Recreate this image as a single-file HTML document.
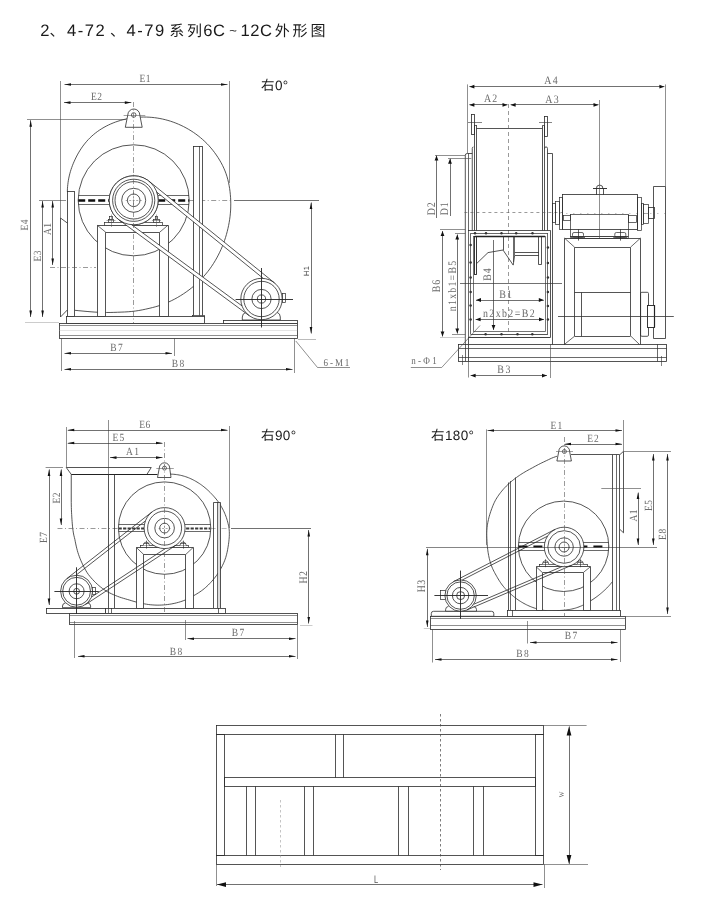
<!DOCTYPE html>
<html><head><meta charset="utf-8"><title>4-72 4-79 6C-12C</title>
<style>
html,body{margin:0;padding:0;background:#fff;}
body{width:720px;height:916px;overflow:hidden;position:relative;font-family:"Liberation Sans","Noto Sans CJK SC",sans-serif;}
svg{position:absolute;left:0;top:0;display:block;will-change:transform;opacity:0.999;}
text{text-rendering:geometricPrecision;}
.ts{font-family:"Liberation Serif","Noto Serif CJK SC",serif;}
.tn{font-family:"Liberation Sans","Noto Sans CJK SC",sans-serif;}
</style></head><body>
<svg width="720" height="916" viewBox="0 0 720 916">
<rect x="0" y="0" width="720" height="916" fill="#ffffff"/>
<text y="35.6" font-size="16.6" fill="#1a1a1a" class="tn"><tspan x="40.3">2</tspan><tspan x="49.5" font-size="15">、</tspan><tspan x="67" letter-spacing="1.5">4-72</tspan><tspan x="110" font-size="15">、</tspan><tspan x="126.5" letter-spacing="1.5">4-79</tspan><tspan x="169.3" font-size="15" letter-spacing="2.6">系列</tspan><tspan x="203.3" letter-spacing="0.5">6C</tspan><tspan x="229.3" font-size="13" dy="-0.5">~</tspan><tspan x="240.6" dy="0.5" letter-spacing="0.5">12C</tspan><tspan x="274.8" font-size="15" letter-spacing="2.8">外形图</tspan></text>
<path d="M67.30,191.50 L67.36,190.98 L67.45,188.84 L67.59,186.70 L67.80,184.55 L68.07,182.40 L68.40,180.25 L68.79,178.10 L69.25,175.95 L69.78,173.81 L70.37,171.67 L71.02,169.54 L71.75,167.43 L72.54,165.32 L73.39,163.23 L74.29,161.14 L75.25,159.06 L76.26,156.99 L77.34,154.93 L78.48,152.89 L79.69,150.87 L80.96,148.88 L82.31,146.92 L83.73,144.99 L85.22,143.10 L86.78,141.25 L88.42,139.45 L90.13,137.71 L91.91,136.02 L93.77,134.40 L95.69,132.85 L97.68,131.37 L99.74,129.96 L101.84,128.61 L104.00,127.34 L106.22,126.13 L108.48,125.00 L110.78,123.94 L113.13,122.96 L115.52,122.04 L117.95,121.21 L120.41,120.45 L122.90,119.76 L125.42,119.15 L127.98,118.61 L130.55,118.15 L133.15,117.77 L135.77,117.47 L138.41,117.24 L141.07,117.10 L143.74,117.04 L146.42,117.07 L149.11,117.19 L151.80,117.39 L154.50,117.67 L157.20,118.05 L159.89,118.51 L162.58,119.05 L165.26,119.69 L167.93,120.42 L170.59,121.23 L173.23,122.13 L175.85,123.12 L178.45,124.19 L181.02,125.35 L183.57,126.59 L186.09,127.91 L188.57,129.32 L191.03,130.81 L193.44,132.38 L195.81,134.04 L198.14,135.78 L200.41,137.60 L202.63,139.51 L204.80,141.49 L206.90,143.56 L208.93,145.70 L210.90,147.93 L212.78,150.23 L214.60,152.60 L216.33,155.04 L218.00,157.53 L219.59,160.09 L221.10,162.71 L222.51,165.39 L223.82,168.13 L225.01,170.93 L226.08,173.78 L227.02,176.68 L227.83,179.62 L228.54,182.59 L229.14,185.59 L229.64,188.61 L230.04,191.64 L230.35,194.69 L230.58,197.75 L230.72,200.82 L230.77,203.89 L230.73,206.97 L230.61,210.05 L230.39,213.13 L230.08,216.21 L229.68,219.28 L229.19,222.35 L228.62,225.41 L227.96,228.45 L227.23,231.49 L226.42,234.52 L225.52,237.53 L224.54,240.53 L223.47,243.50 L222.31,246.45 L221.05,249.37 L219.70,252.26 L218.27,255.13 L216.76,257.96 L215.16,260.76 L213.47,263.51 L211.69,266.23 L209.82,268.89 L207.85,271.49 L205.78,274.04 L203.63,276.51 L201.39,278.93 L199.06,281.28 L196.65,283.55 L194.17,285.76 L191.60,287.89 L188.97,289.95 L186.26,291.92 L183.48,293.82 L180.64,295.64 L177.73,297.38 L174.76,299.02 L171.73,300.57 L168.64,302.02 L165.49,303.37 L162.29,304.60 L159.04,305.71 L155.74,306.70 L152.40,307.59 L149.04,308.40 L145.65,309.17 L142.22,309.88 L138.77,310.51 L135.29,311.05 L131.77,311.46 L128.23,311.76 L124.67,311.97 L121.09,312.12 L117.47,312.25 L113.81,312.38 L110.11,312.47 L106.38,312.48 L102.60,312.41 L98.78,312.29 L94.92,312.10 L91.02,311.81 L87.06,311.47 L83.04,311.10 L78.92,310.71 L74.73,310.29" fill="none" stroke="#2a2a2a" stroke-width="0.8" stroke-linejoin="round"/>
<circle cx="133.70" cy="200.30" r="55.50" fill="none" stroke="#2a2a2a" stroke-width="0.8"/>
<line x1="78.40" y1="195.50" x2="189.00" y2="195.50" stroke="#2a2a2a" stroke-width="0.7"/>
<line x1="78.40" y1="204.50" x2="189.00" y2="204.50" stroke="#2a2a2a" stroke-width="0.7"/>
<line x1="78.20" y1="200.50" x2="189.20" y2="200.50" stroke="#111" stroke-width="2.4" stroke-dasharray="7 3"/>
<line x1="189.20" y1="200.50" x2="232.00" y2="200.50" stroke="#555" stroke-width="0.6" stroke-dasharray="5 2.5 1 2.5"/>
<line x1="234.00" y1="200.50" x2="319.00" y2="200.50" stroke="#333" stroke-width="0.7"/>
<rect x="67.50" y="191.50" width="7.00" height="125.00" fill="#fff" stroke="#2a2a2a" stroke-width="0.8"/>
<path d="M67.30,223.00 L60.50,218.00 L60.50,317.00 L67.30,310.00" fill="none" stroke="#2a2a2a" stroke-width="0.8" stroke-linejoin="round"/>
<line x1="50.00" y1="267.50" x2="96.00" y2="267.50" stroke="#555" stroke-width="0.6" stroke-dasharray="5 2.5 1 2.5"/>
<rect x="193.50" y="146.50" width="9.00" height="170.00" fill="#fff" stroke="#2a2a2a" stroke-width="0.8"/>
<line x1="199.50" y1="146.00" x2="199.50" y2="316.00" stroke="#2a2a2a" stroke-width="0.7"/>
<rect x="192.50" y="315.50" width="12.00" height="2.00" fill="#fff" stroke="#2a2a2a" stroke-width="0.7"/>
<path d="M97.50,316.50 L97.50,225.50 L168.50,225.50 L168.50,316.50 L159.50,316.50 L159.50,232.50 L105.50,232.50 L105.50,316.50 Z" fill="#fff" stroke="#2a2a2a" stroke-width="0.8" stroke-linejoin="round"/>
<line x1="97.20" y1="225.20" x2="105.80" y2="232.30" stroke="#2a2a2a" stroke-width="0.7"/>
<line x1="168.00" y1="225.20" x2="159.60" y2="232.30" stroke="#2a2a2a" stroke-width="0.7"/>
<rect x="104.50" y="222.50" width="58.00" height="3.00" fill="#fff" stroke="#2a2a2a" stroke-width="0.7"/>
<rect x="108.50" y="219.50" width="5.00" height="3.00" fill="#fff" stroke="#2a2a2a" stroke-width="0.7"/>
<rect x="109.50" y="216.50" width="3.00" height="3.00" fill="#fff" stroke="#2a2a2a" stroke-width="0.7"/>
<line x1="111.50" y1="214.50" x2="111.50" y2="227.00" stroke="#555" stroke-width="0.5"/>
<line x1="106.50" y1="220.50" x2="115.50" y2="220.50" stroke="#555" stroke-width="0.5"/>
<rect x="153.50" y="219.50" width="6.00" height="3.00" fill="#fff" stroke="#2a2a2a" stroke-width="0.7"/>
<rect x="155.50" y="216.50" width="2.00" height="3.00" fill="#fff" stroke="#2a2a2a" stroke-width="0.7"/>
<line x1="156.50" y1="214.50" x2="156.50" y2="227.00" stroke="#555" stroke-width="0.5"/>
<line x1="151.90" y1="220.50" x2="160.90" y2="220.50" stroke="#555" stroke-width="0.5"/>
<circle cx="133.70" cy="200.30" r="24.50" fill="#fff" stroke="#2a2a2a" stroke-width="0.8"/>
<circle cx="133.70" cy="200.30" r="21.10" fill="none" stroke="#2a2a2a" stroke-width="0.8"/>
<circle cx="133.70" cy="200.30" r="18.70" fill="none" stroke="#2a2a2a" stroke-width="0.8"/>
<circle cx="133.70" cy="200.30" r="12.00" fill="none" stroke="#2a2a2a" stroke-width="0.8"/>
<circle cx="133.70" cy="200.30" r="6.30" fill="none" stroke="#2a2a2a" stroke-width="0.8"/>
<line x1="125.70" y1="200.50" x2="141.70" y2="200.50" stroke="#555" stroke-width="0.5" stroke-dasharray="2 1.5"/>
<line x1="133.50" y1="192.30" x2="133.50" y2="208.30" stroke="#555" stroke-width="0.5" stroke-dasharray="2 1.5"/>
<line x1="120.50" y1="200.50" x2="122.90" y2="200.50" stroke="#444" stroke-width="0.5"/>
<line x1="144.50" y1="200.50" x2="146.90" y2="200.50" stroke="#444" stroke-width="0.5"/>
<line x1="133.50" y1="187.10" x2="133.50" y2="189.50" stroke="#444" stroke-width="0.5"/>
<line x1="133.50" y1="211.10" x2="133.50" y2="213.50" stroke="#444" stroke-width="0.5"/>
<line x1="113.80" y1="200.50" x2="116.20" y2="200.50" stroke="#444" stroke-width="0.5"/>
<line x1="151.20" y1="200.50" x2="153.60" y2="200.50" stroke="#444" stroke-width="0.5"/>
<line x1="133.50" y1="180.40" x2="133.50" y2="182.80" stroke="#444" stroke-width="0.5"/>
<line x1="133.50" y1="217.80" x2="133.50" y2="220.20" stroke="#444" stroke-width="0.5"/>
<line x1="108.00" y1="200.50" x2="110.40" y2="200.50" stroke="#444" stroke-width="0.5"/>
<line x1="157.00" y1="200.50" x2="159.40" y2="200.50" stroke="#444" stroke-width="0.5"/>
<line x1="133.50" y1="174.60" x2="133.50" y2="177.00" stroke="#444" stroke-width="0.5"/>
<line x1="133.50" y1="223.60" x2="133.50" y2="226.00" stroke="#444" stroke-width="0.5"/>
<rect x="66.50" y="316.50" width="138.00" height="7.00" fill="#fff" stroke="#2a2a2a" stroke-width="0.8"/>
<rect x="59.50" y="323.50" width="238.00" height="15.00" fill="#fff" stroke="#2a2a2a" stroke-width="0.8"/>
<line x1="59.40" y1="325.50" x2="297.30" y2="325.50" stroke="#444" stroke-width="0.6"/>
<line x1="59.40" y1="335.50" x2="297.30" y2="335.50" stroke="#444" stroke-width="0.6"/>
<line x1="59.40" y1="330.50" x2="297.30" y2="330.50" stroke="#bbb" stroke-width="0.4"/>
<rect x="223.50" y="320.50" width="74.00" height="3.00" fill="#fff" stroke="#2a2a2a" stroke-width="0.8"/>
<path d="M246,312.3 Q242.3,313.5 242.3,317 L242.3,320 L280.3,320 L280.3,317 Q280.3,313.5 277,312.3" fill="#fff" stroke="#2a2a2a" stroke-width="0.8"/>
<rect x="282.50" y="293.50" width="3.00" height="9.00" fill="#fff" stroke="#2a2a2a" stroke-width="0.7"/>
<polygon points="119.19,220.04 249.24,315.68 251.37,312.78 121.32,217.14" fill="#fff" stroke="none"/>
<polygon points="149.13,181.27 274.53,282.92 272.27,285.72 146.86,184.06" fill="#fff" stroke="none"/>
<circle cx="261.50" cy="299.00" r="20.70" fill="#fff" stroke="#2a2a2a" stroke-width="0.8"/>
<circle cx="261.50" cy="299.00" r="17.70" fill="none" stroke="#2a2a2a" stroke-width="0.8"/>
<circle cx="261.50" cy="299.00" r="9.60" fill="none" stroke="#2a2a2a" stroke-width="0.8"/>
<circle cx="261.50" cy="299.00" r="4.10" fill="none" stroke="#2a2a2a" stroke-width="0.8"/>
<circle cx="133.70" cy="200.30" r="24.50" fill="#fff" stroke="#2a2a2a" stroke-width="0.8"/>
<circle cx="133.70" cy="200.30" r="21.10" fill="none" stroke="#2a2a2a" stroke-width="0.8"/>
<circle cx="133.70" cy="200.30" r="18.70" fill="none" stroke="#2a2a2a" stroke-width="0.8"/>
<circle cx="133.70" cy="200.30" r="12.00" fill="none" stroke="#2a2a2a" stroke-width="0.8"/>
<circle cx="133.70" cy="200.30" r="6.30" fill="none" stroke="#2a2a2a" stroke-width="0.8"/>
<line x1="125.70" y1="200.50" x2="141.70" y2="200.50" stroke="#555" stroke-width="0.5" stroke-dasharray="2 1.5"/>
<line x1="133.50" y1="192.30" x2="133.50" y2="208.30" stroke="#555" stroke-width="0.5" stroke-dasharray="2 1.5"/>
<line x1="119.19" y1="220.04" x2="249.24" y2="315.68" stroke="#2a2a2a" stroke-width="0.8"/>
<line x1="149.13" y1="181.27" x2="274.53" y2="282.92" stroke="#2a2a2a" stroke-width="0.8"/>
<line x1="131.62" y1="224.71" x2="241.97" y2="305.86" stroke="#2a2a2a" stroke-width="0.8"/>
<line x1="156.79" y1="192.11" x2="263.21" y2="278.37" stroke="#2a2a2a" stroke-width="0.8"/>
<line x1="235.60" y1="299.50" x2="293.00" y2="299.50" stroke="#222" stroke-width="0.9"/>
<line x1="261.50" y1="268.00" x2="261.50" y2="327.50" stroke="#222" stroke-width="0.9"/>
<path d="M125.3,127.3 L127.8,115 A6,6 0 0 1 139.8,115 L142.2,127.3 Z" fill="#fff" stroke="#2a2a2a" stroke-width="0.8"/>
<circle cx="133.70" cy="115.00" r="2.30" fill="none" stroke="#2a2a2a" stroke-width="0.7"/>
<line x1="123.60" y1="115.50" x2="145.30" y2="115.50" stroke="#444" stroke-width="0.5"/>
<line x1="133.50" y1="102.00" x2="133.50" y2="323.00" stroke="#555" stroke-width="0.6" stroke-dasharray="5 2.5 1 2.5"/>
<line x1="60.50" y1="81.00" x2="60.50" y2="218.00" stroke="#444" stroke-width="0.6"/>
<line x1="229.50" y1="81.00" x2="229.50" y2="183.00" stroke="#444" stroke-width="0.6"/>
<line x1="64.50" y1="84.50" x2="227.50" y2="84.50" stroke="#333" stroke-width="0.7"/>
<polygon points="64.50,84.50 71.00,83.20 71.00,85.80" fill="#111"/>
<polygon points="227.50,84.50 221.00,85.80 221.00,83.20" fill="#111"/>
<text x="0.29" y="0" font-size="11" fill="#6a6a6a" text-anchor="middle" letter-spacing="0.58" class="ts" transform="translate(145.00 81.50) scale(0.86 1)">E1</text>
<line x1="64.00" y1="102.50" x2="131.30" y2="102.50" stroke="#333" stroke-width="0.7"/>
<polygon points="64.00,102.60 70.50,101.30 70.50,103.90" fill="#111"/>
<polygon points="131.30,102.60 124.80,103.90 124.80,101.30" fill="#111"/>
<text x="0.29" y="0" font-size="11" fill="#6a6a6a" text-anchor="middle" letter-spacing="0.58" class="ts" transform="translate(96.50 99.50) scale(0.86 1)">E2</text>
<line x1="27.00" y1="119.50" x2="126.00" y2="119.50" stroke="#444" stroke-width="0.6"/>
<line x1="30.50" y1="120.20" x2="30.50" y2="317.00" stroke="#333" stroke-width="0.7"/>
<polygon points="30.70,120.20 32.00,126.70 29.40,126.70" fill="#111"/>
<polygon points="30.70,317.00 29.40,310.50 32.00,310.50" fill="#111"/>
<text x="0.29" y="0" font-size="11" fill="#6a6a6a" text-anchor="middle" letter-spacing="0.58" class="ts" transform="translate(28.00 225.00) rotate(-90) scale(0.86 1)">E4</text>
<line x1="39.00" y1="200.50" x2="66.00" y2="200.50" stroke="#444" stroke-width="0.6"/>
<line x1="42.50" y1="201.00" x2="42.50" y2="317.00" stroke="#333" stroke-width="0.7"/>
<polygon points="42.60,201.00 43.90,207.50 41.30,207.50" fill="#111"/>
<polygon points="42.60,317.00 41.30,310.50 43.90,310.50" fill="#111"/>
<text x="0.29" y="0" font-size="11" fill="#6a6a6a" text-anchor="middle" letter-spacing="0.58" class="ts" transform="translate(40.50 256.00) rotate(-90) scale(0.86 1)">E3</text>
<line x1="52.50" y1="201.00" x2="52.50" y2="265.00" stroke="#333" stroke-width="0.7"/>
<polygon points="52.70,201.00 54.00,207.50 51.40,207.50" fill="#111"/>
<polygon points="52.70,265.00 51.40,258.50 54.00,258.50" fill="#111"/>
<text x="0.29" y="0" font-size="11" fill="#6a6a6a" text-anchor="middle" letter-spacing="0.58" class="ts" transform="translate(50.50 229.00) rotate(-90) scale(0.86 1)">A1</text>
<line x1="25.00" y1="322.50" x2="59.00" y2="322.50" stroke="#999" stroke-width="0.5"/>
<line x1="311.50" y1="202.50" x2="311.50" y2="333.50" stroke="#333" stroke-width="0.7"/>
<polygon points="311.00,202.50 312.30,209.00 309.70,209.00" fill="#111"/>
<polygon points="311.00,333.50 309.70,327.00 312.30,327.00" fill="#111"/>
<text x="0.15" y="0" font-size="7.6" fill="#333" text-anchor="middle" letter-spacing="0.30" class="tn" transform="translate(308.80 271.00) rotate(-90) scale(1.0 1)">H1</text>
<line x1="298.00" y1="339.50" x2="316.00" y2="339.50" stroke="#777" stroke-width="0.5"/>
<line x1="61.50" y1="338.00" x2="61.50" y2="371.00" stroke="#444" stroke-width="0.6"/>
<line x1="174.50" y1="338.00" x2="174.50" y2="356.00" stroke="#444" stroke-width="0.6"/>
<line x1="294.50" y1="338.00" x2="294.50" y2="373.00" stroke="#444" stroke-width="0.6"/>
<line x1="64.50" y1="353.50" x2="172.00" y2="353.50" stroke="#333" stroke-width="0.7"/>
<polygon points="64.50,353.30 71.00,352.00 71.00,354.60" fill="#111"/>
<polygon points="172.00,353.30 165.50,354.60 165.50,352.00" fill="#111"/>
<text x="0.87" y="0" font-size="11" fill="#6a6a6a" text-anchor="middle" letter-spacing="1.74" class="ts" transform="translate(116.50 351.00) scale(0.86 1)">B7</text>
<line x1="64.50" y1="369.50" x2="292.50" y2="369.50" stroke="#333" stroke-width="0.7"/>
<polygon points="64.50,369.20 71.00,367.90 71.00,370.50" fill="#111"/>
<polygon points="292.50,369.20 286.00,370.50 286.00,367.90" fill="#111"/>
<text x="0.87" y="0" font-size="11" fill="#6a6a6a" text-anchor="middle" letter-spacing="1.74" class="ts" transform="translate(178.00 367.00) scale(0.86 1)">B8</text>
<path d="M295.80,341.00 L317.50,367.50 L350.00,367.50" fill="none" stroke="#444" stroke-width="0.6" stroke-linejoin="round"/>
<text x="1.10" y="0" font-size="10.5" fill="#6a6a6a" text-anchor="middle" letter-spacing="2.21" class="ts" transform="translate(336.50 366.00) scale(0.86 1)">6-M1</text>
<text x="261" y="89.8" font-size="13.5" fill="#1a1a1a" class="tn" letter-spacing="0.4">右0°</text>
<rect x="471.50" y="114.50" width="3.00" height="20.00" fill="none" stroke="#2a2a2a" stroke-width="0.8"/>
<line x1="468.00" y1="122.50" x2="482.00" y2="122.50" stroke="#333" stroke-width="0.6"/>
<rect x="544.50" y="116.50" width="3.00" height="20.00" fill="none" stroke="#2a2a2a" stroke-width="0.8"/>
<line x1="539.00" y1="122.50" x2="552.00" y2="122.50" stroke="#333" stroke-width="0.6"/>
<line x1="476.50" y1="128.50" x2="542.25" y2="128.50" stroke="#2a2a2a" stroke-width="0.8"/>
<line x1="474.50" y1="125.00" x2="474.50" y2="230.50" stroke="#2a2a2a" stroke-width="0.8"/>
<line x1="476.50" y1="125.00" x2="476.50" y2="230.50" stroke="#2a2a2a" stroke-width="0.8"/>
<line x1="474.50" y1="125.50" x2="476.50" y2="125.50" stroke="#2a2a2a" stroke-width="0.7"/>
<line x1="542.50" y1="125.60" x2="542.50" y2="230.50" stroke="#2a2a2a" stroke-width="0.8"/>
<line x1="544.50" y1="125.60" x2="544.50" y2="230.50" stroke="#2a2a2a" stroke-width="0.8"/>
<line x1="542.25" y1="125.50" x2="544.50" y2="125.50" stroke="#2a2a2a" stroke-width="0.7"/>
<path d="M472.25,230.5 L472.25,148.5 Q472.25,147 473.4,147" fill="none" stroke="#2a2a2a" stroke-width="0.8"/>
<path d="M465.3,344.4 L465.3,155.3 Q465.3,153.5 467.2,153.5 L472.25,153.5" fill="none" stroke="#2a2a2a" stroke-width="0.8"/>
<line x1="468.50" y1="153.50" x2="468.50" y2="344.40" stroke="#2a2a2a" stroke-width="0.7"/>
<path d="M544.6,148.5 Q544.6,146.9 546,146.9 Q547.5,146.9 547.5,148.5 L547.5,230.5" fill="none" stroke="#2a2a2a" stroke-width="0.8"/>
<line x1="547.50" y1="153.50" x2="552.50" y2="153.50" stroke="#2a2a2a" stroke-width="0.8"/>
<line x1="552.50" y1="153.50" x2="552.50" y2="344.40" stroke="#2a2a2a" stroke-width="0.8"/>
<line x1="464.40" y1="212.50" x2="562.00" y2="212.50" stroke="#555" stroke-width="0.6" stroke-dasharray="3 3"/>
<line x1="552.00" y1="213.50" x2="665.00" y2="213.50" stroke="#888" stroke-width="0.5" stroke-dasharray="1.5 5.5"/>
<line x1="508.50" y1="104.00" x2="508.50" y2="333.00" stroke="#555" stroke-width="0.6" stroke-dasharray="4 3"/>
<line x1="468.00" y1="230.50" x2="550.60" y2="230.50" stroke="#2a2a2a" stroke-width="0.8"/>
<line x1="550.50" y1="230.50" x2="550.50" y2="337.25" stroke="#2a2a2a" stroke-width="0.8"/>
<line x1="468.00" y1="337.50" x2="550.60" y2="337.50" stroke="#2a2a2a" stroke-width="0.9"/>
<line x1="470.60" y1="233.50" x2="547.90" y2="233.50" stroke="#2a2a2a" stroke-width="0.7"/>
<line x1="470.50" y1="233.25" x2="470.50" y2="334.20" stroke="#2a2a2a" stroke-width="0.7"/>
<line x1="547.50" y1="233.25" x2="547.50" y2="334.20" stroke="#2a2a2a" stroke-width="0.7"/>
<line x1="470.60" y1="334.50" x2="547.90" y2="334.50" stroke="#2a2a2a" stroke-width="0.8"/>
<rect x="473.50" y="236.50" width="72.00" height="95.00" fill="none" stroke="#555" stroke-width="0.8"/>
<line x1="474.75" y1="236.50" x2="545.00" y2="236.50" stroke="#222" stroke-width="1.3"/>
<rect x="474.50" y="236.50" width="2.00" height="38.00" fill="none" stroke="#222" stroke-width="0.9"/>
<circle cx="486.00" cy="233.25" r="1.25" fill="#333"/>
<circle cx="501.50" cy="233.25" r="1.25" fill="#333"/>
<circle cx="516.20" cy="233.25" r="1.25" fill="#333"/>
<circle cx="532.50" cy="233.25" r="1.25" fill="#333"/>
<circle cx="475.00" cy="233.25" r="1.25" fill="#333"/>
<circle cx="485.60" cy="334.20" r="1.25" fill="#333"/>
<circle cx="501.50" cy="334.20" r="1.25" fill="#333"/>
<circle cx="517.50" cy="334.20" r="1.25" fill="#333"/>
<circle cx="532.30" cy="334.20" r="1.25" fill="#333"/>
<circle cx="470.60" cy="245.00" r="1.25" fill="#333"/>
<circle cx="470.60" cy="262.60" r="1.25" fill="#333"/>
<circle cx="470.60" cy="277.60" r="1.25" fill="#333"/>
<circle cx="470.60" cy="292.00" r="1.25" fill="#333"/>
<circle cx="470.60" cy="305.60" r="1.25" fill="#333"/>
<circle cx="470.60" cy="319.40" r="1.25" fill="#333"/>
<circle cx="547.90" cy="247.60" r="1.25" fill="#333"/>
<circle cx="547.90" cy="263.00" r="1.25" fill="#333"/>
<circle cx="547.90" cy="277.60" r="1.25" fill="#333"/>
<circle cx="547.90" cy="292.00" r="1.25" fill="#333"/>
<circle cx="547.90" cy="306.00" r="1.25" fill="#333"/>
<circle cx="547.90" cy="319.40" r="1.25" fill="#333"/>
<path d="M476.90,263.30 L488.00,252.60 L503.00,250.00 L513.20,265.10 L514.60,255.60" fill="none" stroke="#2a2a2a" stroke-width="0.8" stroke-linejoin="round"/>
<line x1="503.50" y1="236.00" x2="503.50" y2="250.00" stroke="#2a2a2a" stroke-width="0.8"/>
<line x1="513.50" y1="236.00" x2="513.50" y2="262.00" stroke="#2a2a2a" stroke-width="0.7"/>
<line x1="514.50" y1="236.00" x2="514.50" y2="255.60" stroke="#2a2a2a" stroke-width="0.7"/>
<line x1="514.80" y1="252.50" x2="538.80" y2="252.50" stroke="#2a2a2a" stroke-width="0.8"/>
<line x1="514.80" y1="255.50" x2="538.80" y2="255.50" stroke="#2a2a2a" stroke-width="0.8"/>
<path d="M538.50,236.00 L538.50,264.50 L541.50,264.50 L541.50,236.00" fill="none" stroke="#2a2a2a" stroke-width="0.8" stroke-linejoin="round"/>
<line x1="460.00" y1="283.50" x2="562.00" y2="283.50" stroke="#333" stroke-width="0.7"/>
<rect x="458.50" y="344.50" width="208.00" height="17.00" fill="none" stroke="#2a2a2a" stroke-width="0.8"/>
<line x1="458.50" y1="348.50" x2="666.50" y2="348.50" stroke="#2a2a2a" stroke-width="0.7"/>
<line x1="458.50" y1="357.50" x2="666.50" y2="357.50" stroke="#2a2a2a" stroke-width="0.7"/>
<line x1="465.50" y1="344.40" x2="465.50" y2="361.25" stroke="#2a2a2a" stroke-width="0.7"/>
<line x1="468.50" y1="344.40" x2="468.50" y2="361.25" stroke="#2a2a2a" stroke-width="0.7"/>
<line x1="657.50" y1="344.40" x2="657.50" y2="361.25" stroke="#2a2a2a" stroke-width="0.7"/>
<line x1="462.50" y1="355.00" x2="462.50" y2="365.00" stroke="#333" stroke-width="0.6"/>
<line x1="661.50" y1="356.00" x2="661.50" y2="366.00" stroke="#333" stroke-width="0.6"/>
<path d="M564.50,344.40 L564.50,238.50 L640.50,238.50 L640.50,344.40" fill="none" stroke="#2a2a2a" stroke-width="0.8" stroke-linejoin="round"/>
<path d="M574.50,336.20 L574.50,247.50 L630.50,247.50 L630.50,335.80" fill="none" stroke="#2a2a2a" stroke-width="0.8" stroke-linejoin="round"/>
<line x1="564.40" y1="238.00" x2="574.60" y2="247.20" stroke="#2a2a2a" stroke-width="0.7"/>
<line x1="640.60" y1="238.00" x2="630.50" y2="247.20" stroke="#2a2a2a" stroke-width="0.7"/>
<line x1="564.40" y1="344.40" x2="574.60" y2="336.20" stroke="#2a2a2a" stroke-width="0.7"/>
<line x1="639.40" y1="344.40" x2="630.50" y2="335.80" stroke="#2a2a2a" stroke-width="0.7"/>
<line x1="574.60" y1="336.50" x2="630.50" y2="336.50" stroke="#2a2a2a" stroke-width="0.8"/>
<line x1="574.60" y1="292.50" x2="630.50" y2="292.50" stroke="#2a2a2a" stroke-width="0.8"/>
<line x1="581.50" y1="292.50" x2="581.50" y2="336.20" stroke="#2a2a2a" stroke-width="0.8"/>
<rect x="640.6" y="292.3" width="7.9" height="44" rx="1.2" fill="none" stroke="#2a2a2a" stroke-width="0.8"/>
<path d="M653.50,305.00 L653.50,186.50 L665.50,186.50 L665.50,338.50 L653.50,338.50 L653.50,327.50" fill="none" stroke="#2a2a2a" stroke-width="0.8" stroke-linejoin="round"/>
<rect x="647.50" y="305.50" width="7.00" height="22.00" fill="#fff" stroke="#222" stroke-width="0.9"/>
<line x1="654.50" y1="305.00" x2="654.50" y2="327.50" stroke="#222" stroke-width="1.2"/>
<line x1="558.00" y1="316.50" x2="673.80" y2="316.50" stroke="#333" stroke-width="0.8"/>
<rect x="562.50" y="194.50" width="75.00" height="35.00" fill="none" stroke="#2a2a2a" stroke-width="0.8"/>
<rect x="559.50" y="197.50" width="3.00" height="32.00" fill="none" stroke="#2a2a2a" stroke-width="0.7"/>
<rect x="555.50" y="201.50" width="4.00" height="23.00" fill="none" stroke="#2a2a2a" stroke-width="0.7"/>
<rect x="552.50" y="203.50" width="3.00" height="19.00" fill="none" stroke="#2a2a2a" stroke-width="0.7"/>
<rect x="637.50" y="197.50" width="4.00" height="33.00" fill="none" stroke="#2a2a2a" stroke-width="0.7"/>
<rect x="641.50" y="203.50" width="2.00" height="21.00" fill="none" stroke="#2a2a2a" stroke-width="0.7"/>
<rect x="643.50" y="204.50" width="5.00" height="19.00" fill="none" stroke="#2a2a2a" stroke-width="0.7"/>
<rect x="648.50" y="207.50" width="6.00" height="11.00" fill="none" stroke="#2a2a2a" stroke-width="0.8"/>
<rect x="570.50" y="214.50" width="58.00" height="22.00" fill="none" stroke="#2a2a2a" stroke-width="0.7"/>
<rect x="563.50" y="215.50" width="7.00" height="5.00" fill="none" stroke="#2a2a2a" stroke-width="0.7"/>
<rect x="628.50" y="215.50" width="8.00" height="7.00" fill="none" stroke="#2a2a2a" stroke-width="0.7"/>
<rect x="570.50" y="236.50" width="58.00" height="2.00" fill="none" stroke="#2a2a2a" stroke-width="0.6"/>
<line x1="643.80" y1="213.50" x2="648.50" y2="213.50" stroke="#555" stroke-width="0.5"/>
<rect x="572.50" y="232.5" width="11" height="4.5" rx="1.5" fill="none" stroke="#2a2a2a" stroke-width="0.7"/>
<line x1="571.00" y1="237.50" x2="585.00" y2="237.50" stroke="#2a2a2a" stroke-width="0.7"/>
<line x1="578.50" y1="229.40" x2="578.50" y2="240.60" stroke="#222" stroke-width="0.7"/>
<rect x="614.80" y="232.5" width="11" height="4.5" rx="1.5" fill="none" stroke="#2a2a2a" stroke-width="0.7"/>
<line x1="613.30" y1="237.50" x2="627.30" y2="237.50" stroke="#2a2a2a" stroke-width="0.7"/>
<line x1="620.50" y1="229.40" x2="620.50" y2="240.60" stroke="#222" stroke-width="0.7"/>
<path d="M596.3,188.75 A3.35,3.7 0 0 1 603,188.75" fill="none" stroke="#2a2a2a" stroke-width="0.8"/>
<line x1="593.00" y1="188.50" x2="607.00" y2="188.50" stroke="#222" stroke-width="0.9"/>
<line x1="596.50" y1="188.75" x2="596.50" y2="194.75" stroke="#2a2a2a" stroke-width="0.8"/>
<line x1="603.50" y1="188.75" x2="603.50" y2="194.75" stroke="#2a2a2a" stroke-width="0.8"/>
<line x1="599.50" y1="100.00" x2="599.50" y2="238.00" stroke="#444" stroke-width="0.6"/>
<line x1="467.50" y1="84.40" x2="467.50" y2="153.00" stroke="#444" stroke-width="0.6"/>
<line x1="665.50" y1="84.40" x2="665.50" y2="186.50" stroke="#444" stroke-width="0.6"/>
<line x1="469.40" y1="86.50" x2="664.40" y2="86.50" stroke="#333" stroke-width="0.7"/>
<polygon points="469.40,86.70 474.40,84.80 474.40,88.60" fill="#111"/>
<polygon points="664.40,86.70 659.40,88.60 659.40,84.80" fill="#111"/>
<text x="0.70" y="0" font-size="11.5" fill="#6a6a6a" text-anchor="middle" letter-spacing="1.40" class="ts" transform="translate(551.00 84.40) scale(0.86 1)">A4</text>
<line x1="469.40" y1="104.50" x2="507.50" y2="104.50" stroke="#333" stroke-width="0.7"/>
<polygon points="469.40,104.90 474.40,103.00 474.40,106.80" fill="#111"/>
<polygon points="507.50,104.90 502.50,106.80 502.50,103.00" fill="#111"/>
<text x="0.70" y="0" font-size="11.5" fill="#6a6a6a" text-anchor="middle" letter-spacing="1.40" class="ts" transform="translate(490.60 102.30) scale(0.86 1)">A2</text>
<line x1="510.60" y1="104.50" x2="598.50" y2="104.50" stroke="#333" stroke-width="0.7"/>
<polygon points="510.60,104.90 515.60,103.00 515.60,106.80" fill="#111"/>
<polygon points="598.50,104.90 593.50,106.80 593.50,103.00" fill="#111"/>
<text x="0.70" y="0" font-size="11.5" fill="#6a6a6a" text-anchor="middle" letter-spacing="1.40" class="ts" transform="translate(552.00 102.70) scale(0.86 1)">A3</text>
<line x1="435.00" y1="155.50" x2="465.30" y2="155.50" stroke="#444" stroke-width="0.6"/>
<line x1="436.50" y1="155.60" x2="436.50" y2="218.00" stroke="#333" stroke-width="0.7"/>
<polygon points="436.50,155.60 438.40,160.60 434.60,160.60" fill="#111"/>
<text x="0.58" y="0" font-size="11.5" fill="#6a6a6a" text-anchor="middle" letter-spacing="1.16" class="ts" transform="translate(434.50 208.80) rotate(-90) scale(0.86 1)">D2</text>
<line x1="448.00" y1="158.50" x2="471.30" y2="158.50" stroke="#444" stroke-width="0.6"/>
<line x1="450.50" y1="158.80" x2="450.50" y2="216.00" stroke="#333" stroke-width="0.7"/>
<polygon points="450.00,158.80 451.90,163.80 448.10,163.80" fill="#111"/>
<text x="0.58" y="0" font-size="11.5" fill="#6a6a6a" text-anchor="middle" letter-spacing="1.16" class="ts" transform="translate(448.30 208.80) rotate(-90) scale(0.86 1)">D1</text>
<line x1="440.00" y1="229.50" x2="465.30" y2="229.50" stroke="#444" stroke-width="0.6"/>
<line x1="440.00" y1="337.50" x2="465.30" y2="337.50" stroke="#999" stroke-width="0.5"/>
<line x1="442.50" y1="231.00" x2="442.50" y2="336.50" stroke="#333" stroke-width="0.7"/>
<polygon points="442.50,231.00 444.40,236.00 440.60,236.00" fill="#111"/>
<polygon points="442.50,336.50 440.60,331.50 444.40,331.50" fill="#111"/>
<text x="0.58" y="0" font-size="11.5" fill="#6a6a6a" text-anchor="middle" letter-spacing="1.16" class="ts" transform="translate(440.00 286.00) rotate(-90) scale(0.86 1)">B6</text>
<line x1="455.00" y1="233.50" x2="465.30" y2="233.50" stroke="#444" stroke-width="0.6"/>
<line x1="452.00" y1="334.50" x2="465.30" y2="334.50" stroke="#444" stroke-width="0.6"/>
<line x1="457.50" y1="234.50" x2="457.50" y2="333.50" stroke="#333" stroke-width="0.7"/>
<polygon points="457.25,234.50 459.15,239.50 455.35,239.50" fill="#111"/>
<polygon points="457.25,333.50 455.35,328.50 459.15,328.50" fill="#111"/>
<text x="0.70" y="0" font-size="11.5" fill="#6a6a6a" text-anchor="middle" letter-spacing="1.40" class="ts" transform="translate(456.00 286.00) rotate(-90) scale(0.86 1)">n1xb1=B5</text>
<line x1="493.50" y1="240.00" x2="493.50" y2="330.00" stroke="#333" stroke-width="0.7"/>
<polygon points="493.50,330.00 491.60,325.00 495.40,325.00" fill="#111"/>
<text x="0.58" y="0" font-size="11.5" fill="#6a6a6a" text-anchor="middle" letter-spacing="1.16" class="ts" transform="translate(491.00 274.50) rotate(-90) scale(0.86 1)">B4</text>
<line x1="476.00" y1="300.50" x2="543.80" y2="300.50" stroke="#333" stroke-width="0.7"/>
<polygon points="476.00,300.00 481.00,298.10 481.00,301.90" fill="#111"/>
<polygon points="543.80,300.00 538.80,301.90 538.80,298.10" fill="#111"/>
<text x="0.70" y="0" font-size="11.5" fill="#6a6a6a" text-anchor="middle" letter-spacing="1.40" class="ts" transform="translate(505.60 297.60) scale(0.86 1)">B1</text>
<line x1="475.60" y1="319.50" x2="544.00" y2="319.50" stroke="#333" stroke-width="0.7"/>
<polygon points="475.60,319.40 480.60,317.50 480.60,321.30" fill="#111"/>
<polygon points="544.00,319.40 539.00,321.30 539.00,317.50" fill="#111"/>
<text x="0.81" y="0" font-size="11.5" fill="#6a6a6a" text-anchor="middle" letter-spacing="1.63" class="ts" transform="translate(508.80 316.90) scale(0.86 1)">n2xb2=B2</text>
<line x1="468.50" y1="337.25" x2="468.50" y2="377.50" stroke="#444" stroke-width="0.6"/>
<line x1="550.50" y1="344.40" x2="550.50" y2="378.00" stroke="#444" stroke-width="0.6"/>
<line x1="470.60" y1="375.50" x2="547.00" y2="375.50" stroke="#333" stroke-width="0.7"/>
<polygon points="470.60,375.60 475.60,373.70 475.60,377.50" fill="#111"/>
<polygon points="547.00,375.60 542.00,377.50 542.00,373.70" fill="#111"/>
<text x="0.87" y="0" font-size="11.5" fill="#6a6a6a" text-anchor="middle" letter-spacing="1.74" class="ts" transform="translate(503.80 372.50) scale(0.86 1)">B3</text>
<path d="M480.00,325.50 L441.70,367.50 L410.80,367.50" fill="none" stroke="#444" stroke-width="0.6" stroke-linejoin="round"/>
<text x="1.34" y="0" font-size="10.5" fill="#6a6a6a" text-anchor="middle" letter-spacing="2.67" class="ts" transform="translate(424.00 364.00) scale(0.86 1)">n-Φ1</text>
<path d="M168.37,474.15 L169.71,474.13 L171.06,474.15 L172.41,474.20 L173.75,474.29 L175.10,474.42 L176.45,474.58 L177.79,474.78 L179.13,475.02 L180.47,475.29 L181.80,475.59 L183.12,475.94 L184.44,476.32 L185.75,476.73 L187.05,477.19 L188.33,477.68 L189.61,478.21 L190.87,478.77 L192.12,479.36 L193.35,479.99 L194.57,480.64 L195.78,481.32 L196.98,482.03 L198.17,482.76 L199.34,483.52 L200.50,484.30 L201.65,485.12 L202.78,485.96 L203.89,486.82 L204.99,487.71 L206.07,488.63 L207.14,489.57 L208.19,490.53 L209.22,491.52 L210.24,492.53 L211.24,493.56 L212.24,494.61 L213.23,495.68 L214.21,496.77 L215.17,497.88 L216.12,499.01 L217.04,500.18 L217.93,501.37 L218.79,502.59 L219.63,503.84 L220.44,505.11 L221.22,506.40 L221.97,507.72 L222.70,509.07 L223.39,510.43 L224.05,511.82 L224.68,513.23 L225.28,514.67 L225.84,516.12 L226.36,517.59 L226.85,519.08 L227.30,520.59 L227.72,522.11 L228.11,523.66 L228.46,525.21 L228.78,526.78 L229.03,528.37 L229.19,529.96 L229.30,531.57 L229.34,533.17 L229.33,534.78 L229.28,536.39 L229.18,538.01 L229.04,539.62 L228.88,541.23 L228.68,542.85 L228.46,544.47 L228.21,546.09 L227.95,547.72 L227.67,549.35 L227.36,550.98 L227.01,552.61 L226.62,554.25 L226.19,555.88 L225.72,557.50 L225.18,559.10 L224.60,560.69 L223.96,562.27 L223.27,563.83 L222.54,565.38 L221.77,566.91 L220.96,568.42 L220.11,569.92 L219.22,571.40 L218.28,572.86 L217.31,574.30 L216.30,575.72 L215.25,577.12 L214.16,578.50 L213.04,579.85 L211.89,581.18 L210.70,582.50 L209.48,583.79 L208.22,585.05 L206.93,586.28 L205.60,587.48 L204.24,588.65 L202.83,589.77 L201.39,590.85 L199.91,591.88 L198.40,592.87 L196.86,593.82 L195.29,594.75 L193.71,595.65 L192.12,596.54 L190.50,597.43 L188.87,598.30 L187.21,599.12 L185.52,599.88 L183.79,600.57 L182.04,601.21 L180.27,601.80 L178.48,602.33 L176.67,602.82 L174.85,603.26 L173.01,603.65 L171.15,604.00 L169.29,604.29 L167.41,604.55 L165.53,604.75 L163.64,604.92 L161.74,605.04 L159.83,605.12 L157.91,605.15 L156.00,605.12 L154.08,605.03 L152.16,604.90 L150.24,604.72 L148.32,604.49 L146.41,604.21 L144.50,603.89 L142.59,603.53 L140.68,603.13 L138.77,602.69 L136.87,602.22 L134.97,601.71 L133.07,601.17 L131.17,600.60 L129.27,600.01 L127.34,599.44 L125.38,598.88 L123.40,598.30 L121.41,597.70 L119.42,597.04 L117.46,596.31 L115.50,595.53 L113.53,594.71 L111.58,593.84 L109.64,592.90 L107.73,591.89 L105.88,590.79 L104.08,589.59 L102.32,588.33 L100.60,587.01 L98.92,585.62 L97.29,584.18 L95.70,582.69 L94.15,581.13 L92.65,579.53 L91.18,577.89 L89.75,576.21 L88.39,574.47 L87.13,572.65 L85.97,570.77 L84.88,568.85 L83.85,566.90 L82.87,564.91 L81.93,562.91 L81.03,560.89 L80.17,558.84 L79.36,556.78 L78.61,554.69 L77.92,552.57 L77.30,550.44 L76.74,548.29 L76.22,546.12 L75.75,543.94 L75.31,541.76 L74.90,539.57 L74.36,537.38 L73.81,535.18 L73.39,532.95 L73.04,530.70 L72.74,528.44 L72.49,526.17 L72.29,523.89 L72.12,521.59 L71.95,519.28 L71.80,516.95 L71.66,514.59 L71.53,512.22 L71.43,509.83 L71.35,507.41 L71.29,504.97 L71.25,502.50 L71.24,500.00 L71.25,474.40" fill="none" stroke="#2a2a2a" stroke-width="0.8" stroke-linejoin="round"/>
<circle cx="164.60" cy="528.10" r="46.20" fill="none" stroke="#2a2a2a" stroke-width="0.8"/>
<line x1="118.60" y1="524.50" x2="210.60" y2="524.50" stroke="#2a2a2a" stroke-width="0.7"/>
<line x1="118.60" y1="531.50" x2="210.60" y2="531.50" stroke="#2a2a2a" stroke-width="0.7"/>
<line x1="118.60" y1="528.50" x2="210.60" y2="528.50" stroke="#3a3a3a" stroke-width="2.0" stroke-dasharray="3.2 1.3"/>
<line x1="57.50" y1="528.50" x2="118.60" y2="528.50" stroke="#555" stroke-width="0.6" stroke-dasharray="5 2.5 1 2.5"/>
<line x1="210.60" y1="528.50" x2="229.00" y2="528.50" stroke="#777" stroke-width="0.5" stroke-dasharray="5 2.5 1 2.5"/>
<line x1="231.00" y1="528.50" x2="311.00" y2="528.50" stroke="#333" stroke-width="0.7"/>
<line x1="66.25" y1="467.50" x2="151.25" y2="467.50" stroke="#2a2a2a" stroke-width="0.8"/>
<line x1="66.25" y1="467.50" x2="71.25" y2="474.40" stroke="#2a2a2a" stroke-width="0.8"/>
<line x1="151.25" y1="467.50" x2="146.90" y2="474.40" stroke="#2a2a2a" stroke-width="0.8"/>
<line x1="71.25" y1="474.50" x2="157.50" y2="474.50" stroke="#222" stroke-width="1.1"/>
<line x1="108.50" y1="474.40" x2="108.50" y2="608.00" stroke="#2a2a2a" stroke-width="0.8"/>
<line x1="114.50" y1="474.40" x2="114.50" y2="608.00" stroke="#2a2a2a" stroke-width="0.8"/>
<rect x="217.75" y="502.3" width="2.85" height="105.5" fill="#ddd" stroke="none"/>
<path d="M213.50,608.00 L213.50,502.50 L220.50,502.50 L220.50,608.00" fill="none" stroke="#2a2a2a" stroke-width="0.8" stroke-linejoin="round"/>
<line x1="217.50" y1="502.30" x2="217.50" y2="608.00" stroke="#2a2a2a" stroke-width="0.7"/>
<path d="M136.50,608.50 L136.50,547.50 L193.50,547.50 L193.50,608.50 L185.50,608.50 L185.50,554.50 L143.50,554.50 L143.50,608.50 Z" fill="#fff" stroke="#2a2a2a" stroke-width="0.8" stroke-linejoin="round"/>
<line x1="136.40" y1="547.50" x2="143.80" y2="554.60" stroke="#2a2a2a" stroke-width="0.7"/>
<line x1="193.10" y1="547.50" x2="185.60" y2="554.60" stroke="#2a2a2a" stroke-width="0.7"/>
<rect x="140.50" y="545.50" width="48.00" height="2.00" fill="#fff" stroke="#2a2a2a" stroke-width="0.7"/>
<path d="M143.10,545.60 Q143.30,542.20 146.30,542.00 Q149.30,542.20 149.50,545.60" fill="#fff" stroke="#2a2a2a" stroke-width="0.7"/>
<line x1="146.50" y1="540.60" x2="146.50" y2="548.60" stroke="#222" stroke-width="0.6"/>
<line x1="143.80" y1="543.50" x2="148.80" y2="543.50" stroke="#222" stroke-width="0.6"/>
<path d="M179.90,545.60 Q180.10,542.20 183.10,542.00 Q186.10,542.20 186.30,545.60" fill="#fff" stroke="#2a2a2a" stroke-width="0.7"/>
<line x1="183.50" y1="540.60" x2="183.50" y2="548.60" stroke="#222" stroke-width="0.6"/>
<line x1="180.60" y1="543.50" x2="185.60" y2="543.50" stroke="#222" stroke-width="0.6"/>
<rect x="105.50" y="608.50" width="120.00" height="5.00" fill="#fff" stroke="#2a2a2a" stroke-width="0.8"/>
<line x1="111.50" y1="608.00" x2="111.50" y2="613.00" stroke="#2a2a2a" stroke-width="0.7"/>
<line x1="108.50" y1="608.00" x2="108.50" y2="613.00" stroke="#2a2a2a" stroke-width="0.6"/>
<line x1="218.50" y1="608.00" x2="218.50" y2="613.00" stroke="#2a2a2a" stroke-width="0.7"/>
<rect x="69.50" y="613.50" width="228.00" height="11.00" fill="#fff" stroke="#2a2a2a" stroke-width="0.8"/>
<line x1="69.40" y1="615.50" x2="297.50" y2="615.50" stroke="#444" stroke-width="0.6"/>
<line x1="69.40" y1="622.50" x2="297.50" y2="622.50" stroke="#444" stroke-width="0.6"/>
<rect x="46.50" y="608.50" width="59.00" height="5.00" fill="#fff" stroke="#2a2a2a" stroke-width="0.8"/>
<path d="M65.5,602.8 Q62.5,603.5 62.5,606 L62.5,607.7 L90.6,607.7 L90.6,606 Q90.6,603.5 87.7,602.8" fill="#fff" stroke="#2a2a2a" stroke-width="0.8"/>
<rect x="92.50" y="587.50" width="3.00" height="7.00" fill="#fff" stroke="#2a2a2a" stroke-width="0.7"/>
<circle cx="76.60" cy="591.25" r="16.00" fill="#fff" stroke="#2a2a2a" stroke-width="0.8"/>
<circle cx="76.60" cy="591.25" r="13.90" fill="none" stroke="#2a2a2a" stroke-width="0.8"/>
<circle cx="76.60" cy="591.25" r="7.50" fill="none" stroke="#2a2a2a" stroke-width="0.8"/>
<circle cx="76.60" cy="591.25" r="2.90" fill="none" stroke="#2a2a2a" stroke-width="0.8"/>
<circle cx="164.60" cy="528.10" r="20.50" fill="#fff" stroke="#2a2a2a" stroke-width="0.8"/>
<circle cx="164.60" cy="528.10" r="17.00" fill="none" stroke="#2a2a2a" stroke-width="0.8"/>
<circle cx="164.60" cy="528.10" r="9.80" fill="none" stroke="#2a2a2a" stroke-width="0.8"/>
<circle cx="164.60" cy="528.10" r="4.90" fill="none" stroke="#2a2a2a" stroke-width="0.8"/>
<line x1="158.60" y1="528.50" x2="170.60" y2="528.50" stroke="#555" stroke-width="0.5" stroke-dasharray="2 1.5"/>
<line x1="164.50" y1="522.10" x2="164.50" y2="534.10" stroke="#555" stroke-width="0.5" stroke-dasharray="2 1.5"/>
<line x1="151.97" y1="511.96" x2="66.74" y2="578.65" stroke="#2a2a2a" stroke-width="0.8"/>
<line x1="175.85" y1="545.24" x2="85.38" y2="604.63" stroke="#2a2a2a" stroke-width="0.8"/>
<line x1="145.41" y1="520.90" x2="75.93" y2="575.26" stroke="#2a2a2a" stroke-width="0.8"/>
<line x1="165.28" y1="548.59" x2="91.53" y2="597.00" stroke="#2a2a2a" stroke-width="0.8"/>
<line x1="54.40" y1="591.50" x2="98.80" y2="591.50" stroke="#222" stroke-width="0.9"/>
<line x1="76.50" y1="567.30" x2="76.50" y2="613.80" stroke="#222" stroke-width="0.9"/>
<path d="M157.5,477.5 L159.3,468 A5.2,5.2 0 0 1 169.7,468 L171,477.5 Z" fill="#fff" stroke="#2a2a2a" stroke-width="0.8"/>
<circle cx="164.50" cy="468.10" r="2.00" fill="none" stroke="#2a2a2a" stroke-width="0.7"/>
<line x1="156.30" y1="468.50" x2="173.80" y2="468.50" stroke="#444" stroke-width="0.5"/>
<line x1="164.50" y1="442.00" x2="164.50" y2="613.00" stroke="#555" stroke-width="0.6" stroke-dasharray="5 2.5 1 2.5"/>
<line x1="66.50" y1="427.00" x2="66.50" y2="467.50" stroke="#444" stroke-width="0.6"/>
<line x1="229.50" y1="426.00" x2="229.50" y2="528.00" stroke="#444" stroke-width="0.6"/>
<line x1="108.50" y1="420.00" x2="108.50" y2="474.40" stroke="#444" stroke-width="0.6"/>
<line x1="67.75" y1="430.50" x2="227.50" y2="430.50" stroke="#333" stroke-width="0.7"/>
<polygon points="67.75,430.00 74.25,428.70 74.25,431.30" fill="#111"/>
<polygon points="227.50,430.00 221.00,431.30 221.00,428.70" fill="#111"/>
<text x="0.29" y="0" font-size="11" fill="#6a6a6a" text-anchor="middle" letter-spacing="0.58" class="ts" transform="translate(144.80 428.00) scale(0.86 1)">E6</text>
<line x1="67.75" y1="443.50" x2="162.50" y2="443.50" stroke="#333" stroke-width="0.7"/>
<polygon points="67.75,443.00 74.25,441.70 74.25,444.30" fill="#111"/>
<polygon points="162.50,443.00 156.00,444.30 156.00,441.70" fill="#111"/>
<text x="0.70" y="0" font-size="11" fill="#6a6a6a" text-anchor="middle" letter-spacing="1.40" class="ts" transform="translate(118.30 440.60) scale(0.86 1)">E5</text>
<line x1="110.00" y1="457.50" x2="162.50" y2="457.50" stroke="#333" stroke-width="0.7"/>
<polygon points="110.00,457.60 116.50,456.30 116.50,458.90" fill="#111"/>
<polygon points="162.50,457.60 156.00,458.90 156.00,456.30" fill="#111"/>
<text x="0.70" y="0" font-size="11" fill="#6a6a6a" text-anchor="middle" letter-spacing="1.40" class="ts" transform="translate(132.50 455.30) scale(0.86 1)">A1</text>
<line x1="45.60" y1="467.50" x2="63.00" y2="467.50" stroke="#444" stroke-width="0.6"/>
<line x1="49.50" y1="469.40" x2="49.50" y2="605.00" stroke="#333" stroke-width="0.7"/>
<polygon points="49.00,469.40 50.30,475.90 47.70,475.90" fill="#111"/>
<polygon points="49.00,605.00 47.70,598.50 50.30,598.50" fill="#111"/>
<text x="0.29" y="0" font-size="11" fill="#6a6a6a" text-anchor="middle" letter-spacing="0.58" class="ts" transform="translate(47.00 537.50) rotate(-90) scale(0.86 1)">E7</text>
<line x1="61.50" y1="469.40" x2="61.50" y2="525.00" stroke="#333" stroke-width="0.7"/>
<polygon points="61.00,469.40 62.30,475.90 59.70,475.90" fill="#111"/>
<polygon points="61.00,525.00 59.70,518.50 62.30,518.50" fill="#111"/>
<text x="0.29" y="0" font-size="11" fill="#6a6a6a" text-anchor="middle" letter-spacing="0.58" class="ts" transform="translate(59.50 498.00) rotate(-90) scale(0.86 1)">E2</text>
<line x1="308.50" y1="530.00" x2="308.50" y2="623.50" stroke="#333" stroke-width="0.7"/>
<polygon points="308.75,530.00 310.05,536.50 307.45,536.50" fill="#111"/>
<polygon points="308.75,623.50 307.45,617.00 310.05,617.00" fill="#111"/>
<text x="0.29" y="0" font-size="11.5" fill="#6a6a6a" text-anchor="middle" letter-spacing="0.58" class="ts" transform="translate(306.80 577.30) rotate(-90) scale(0.86 1)">H2</text>
<line x1="300.00" y1="625.50" x2="312.50" y2="625.50" stroke="#999" stroke-width="0.5"/>
<line x1="185.50" y1="620.00" x2="185.50" y2="640.00" stroke="#444" stroke-width="0.6"/>
<line x1="297.50" y1="624.30" x2="297.50" y2="659.00" stroke="#444" stroke-width="0.6"/>
<line x1="74.50" y1="621.00" x2="74.50" y2="658.00" stroke="#444" stroke-width="0.6"/>
<line x1="187.50" y1="638.50" x2="295.50" y2="638.50" stroke="#333" stroke-width="0.7"/>
<polygon points="187.50,638.80 194.00,637.50 194.00,640.10" fill="#111"/>
<polygon points="295.50,638.80 289.00,640.10 289.00,637.50" fill="#111"/>
<text x="0.87" y="0" font-size="11" fill="#6a6a6a" text-anchor="middle" letter-spacing="1.74" class="ts" transform="translate(238.00 636.00) scale(0.86 1)">B7</text>
<line x1="78.00" y1="656.50" x2="295.50" y2="656.50" stroke="#333" stroke-width="0.7"/>
<polygon points="78.00,656.30 84.50,655.00 84.50,657.60" fill="#111"/>
<polygon points="295.50,656.30 289.00,657.60 289.00,655.00" fill="#111"/>
<text x="0.87" y="0" font-size="11" fill="#6a6a6a" text-anchor="middle" letter-spacing="1.74" class="ts" transform="translate(176.00 654.50) scale(0.86 1)">B8</text>
<text x="261" y="439.8" font-size="13.5" fill="#1a1a1a" class="tn" letter-spacing="0.4">右90°</text>
<path d="M612.28,581.75 L611.55,582.69 L610.81,583.62 L610.05,584.54 L609.27,585.43 L608.47,586.31 L607.66,587.18 L606.83,588.03 L605.98,588.87 L605.13,589.69 L604.26,590.50 L603.38,591.29 L602.49,592.08 L601.59,592.86 L600.68,593.62 L599.77,594.38 L598.84,595.12 L597.90,595.85 L596.94,596.57 L595.98,597.28 L595.00,597.97 L594.01,598.64 L593.01,599.30 L592.00,599.94 L590.97,600.57 L589.94,601.20 L588.91,601.84 L587.87,602.48 L586.82,603.11 L585.75,603.73 L584.67,604.31 L583.57,604.87 L582.45,605.40 L581.32,605.91 L580.18,606.39 L579.03,606.86 L577.86,607.29 L576.68,607.70 L575.48,608.08 L574.28,608.43 L573.06,608.74 L571.84,609.02 L570.60,609.27 L569.36,609.49 L568.12,609.69 L566.86,609.86 L565.61,610.01 L564.34,610.14 L563.08,610.25 L561.80,610.35 L560.53,610.43 L559.24,610.52 L557.95,610.60 L556.65,610.69 L555.34,610.78 L554.02,610.85 L552.70,610.90 L551.37,610.93 L550.03,610.92 L548.69,610.88 L547.35,610.78 L546.02,610.64 L544.69,610.47 L543.35,610.26 L542.02,610.03 L540.70,609.76 L539.37,609.45 L538.05,609.12 L536.73,608.76 L535.42,608.37 L534.12,607.94 L532.82,607.49 L531.53,607.01 L530.25,606.49 L528.98,605.95 L527.71,605.37 L526.46,604.77 L525.22,604.14 L523.99,603.48 L522.77,602.79 L521.56,602.08 L520.36,601.34 L519.18,600.58 L518.01,599.79 L516.85,598.97 L515.71,598.13 L514.58,597.26 L513.47,596.37 L512.37,595.46 L511.29,594.53 L510.22,593.57 L509.16,592.59 L508.12,591.59 L507.09,590.57 L506.09,589.52 L505.11,588.45 L504.15,587.35 L503.22,586.23 L502.31,585.08 L501.44,583.91 L500.59,582.71 L499.78,581.49 L498.99,580.25 L498.22,579.00 L497.47,577.72 L496.74,576.44 L496.01,575.15 L495.28,573.85 L494.57,572.53 L493.87,571.20 L493.20,569.85 L492.57,568.48 L491.98,567.09 L491.44,565.68 L490.94,564.26 L490.47,562.81 L490.04,561.36 L489.64,559.90 L489.27,558.42 L488.94,556.93 L488.63,555.44 L488.36,553.94 L488.11,552.42 L487.89,550.91 L487.69,549.38 L487.51,547.85 L487.36,546.32 L487.23,544.77 L487.12,543.22 L487.03,541.67 L486.94,540.11 L486.86,538.54 L486.81,536.96 L486.77,535.37 L486.76,533.78 L486.79,532.19 L486.85,530.59 L486.95,528.98 L487.10,527.38 L487.29,525.78 L487.53,524.19 L487.81,522.59 L488.12,521.00 L488.47,519.42 L488.85,517.84 L489.27,516.26 L489.72,514.69 L490.21,513.12 L490.72,511.56 L491.27,510.01 L491.84,508.46 L492.43,506.90 L493.04,505.36 L493.70,503.82 L494.40,502.30 L495.15,500.81 L495.96,499.35 L496.83,497.92 L497.74,496.51 L498.69,495.13 L499.67,493.78 L500.69,492.44 L501.74,491.13 L502.82,489.85 L503.93,488.59 L505.08,487.35 L506.25,486.14 L507.45,484.96 L508.68,483.81 L509.94,482.69 L511.21,481.59 L512.51,480.51 L513.83,479.46 L515.17,478.43 L516.53,477.42 L517.90,476.44 L519.30,475.48 L520.71,474.54 L522.13,473.63 L523.58,472.73 L525.04,471.86 L526.51,471.01 L528.00,470.18 L529.50,469.37 L531.00,468.55 L532.51,467.73 L534.03,466.90 L535.55,466.07 L537.09,465.24 L538.64,464.43 L540.22,463.63 L541.81,462.84 L543.42,462.09 L545.04,461.31 L546.68,460.52 L548.33,459.72 L550.00,458.93 L551.70,458.17 L553.43,457.46 L555.18,456.83 L556.96,456.28" fill="none" stroke="#2a2a2a" stroke-width="0.8" stroke-linejoin="round"/>
<line x1="571.00" y1="454.50" x2="619.70" y2="454.50" stroke="#2a2a2a" stroke-width="0.8"/>
<circle cx="563.60" cy="546.30" r="45.20" fill="none" stroke="#2a2a2a" stroke-width="0.8"/>
<line x1="508.50" y1="482.50" x2="508.50" y2="610.00" stroke="#2a2a2a" stroke-width="0.8"/>
<line x1="510.50" y1="481.00" x2="510.50" y2="610.00" stroke="#2a2a2a" stroke-width="0.7"/>
<line x1="515.50" y1="477.50" x2="515.50" y2="610.00" stroke="#2a2a2a" stroke-width="0.8"/>
<line x1="518.60" y1="542.50" x2="608.60" y2="542.50" stroke="#2a2a2a" stroke-width="0.7"/>
<line x1="518.60" y1="550.50" x2="608.60" y2="550.50" stroke="#2a2a2a" stroke-width="0.7"/>
<line x1="518.40" y1="546.50" x2="608.80" y2="546.50" stroke="#111" stroke-width="2.2" stroke-dasharray="9 6"/>
<line x1="426.00" y1="547.50" x2="657.00" y2="547.50" stroke="#333" stroke-width="0.6"/>
<path d="M619.70,454.80 L623.50,451.30 L623.50,532.80 L620.00,529.50" fill="none" stroke="#2a2a2a" stroke-width="0.8" stroke-linejoin="round"/>
<line x1="612.50" y1="454.80" x2="612.50" y2="616.00" stroke="#2a2a2a" stroke-width="0.8"/>
<line x1="616.50" y1="454.80" x2="616.50" y2="616.00" stroke="#2a2a2a" stroke-width="0.7"/>
<line x1="619.50" y1="454.80" x2="619.50" y2="616.00" stroke="#2a2a2a" stroke-width="0.8"/>
<line x1="623.90" y1="451.50" x2="671.00" y2="451.50" stroke="#444" stroke-width="0.6"/>
<path d="M536.50,610.50 L536.50,566.50 L590.50,566.50 L590.50,610.50 L583.50,610.50 L583.50,572.50 L542.50,572.50 L542.50,610.50 Z" fill="#fff" stroke="#2a2a2a" stroke-width="0.8" stroke-linejoin="round"/>
<line x1="536.30" y1="566.90" x2="542.00" y2="572.20" stroke="#2a2a2a" stroke-width="0.7"/>
<line x1="590.20" y1="566.90" x2="583.70" y2="572.20" stroke="#2a2a2a" stroke-width="0.7"/>
<rect x="539.50" y="564.50" width="48.00" height="2.00" fill="#fff" stroke="#2a2a2a" stroke-width="0.7"/>
<path d="M542.40,564.20 Q542.60,560.80 545.60,560.60 Q548.60,560.80 548.80,564.20" fill="#fff" stroke="#2a2a2a" stroke-width="0.7"/>
<line x1="545.50" y1="559.20" x2="545.50" y2="567.20" stroke="#222" stroke-width="0.6"/>
<line x1="543.10" y1="562.50" x2="548.10" y2="562.50" stroke="#222" stroke-width="0.6"/>
<path d="M577.10,564.20 Q577.30,560.80 580.30,560.60 Q583.30,560.80 583.50,564.20" fill="#fff" stroke="#2a2a2a" stroke-width="0.7"/>
<line x1="580.50" y1="559.20" x2="580.50" y2="567.20" stroke="#222" stroke-width="0.6"/>
<line x1="577.80" y1="562.50" x2="582.80" y2="562.50" stroke="#222" stroke-width="0.6"/>
<rect x="507.50" y="610.50" width="113.00" height="6.00" fill="#fff" stroke="#2a2a2a" stroke-width="0.8"/>
<line x1="512.50" y1="610.00" x2="512.50" y2="616.30" stroke="#2a2a2a" stroke-width="0.7"/>
<rect x="430.50" y="616.50" width="195.00" height="13.00" fill="#fff" stroke="#2a2a2a" stroke-width="0.8"/>
<line x1="430.30" y1="618.50" x2="625.00" y2="618.50" stroke="#444" stroke-width="0.6"/>
<line x1="430.30" y1="625.50" x2="625.00" y2="625.50" stroke="#444" stroke-width="0.6"/>
<path d="M431.3,616.3 L431.3,613.5 Q431.3,611.3 433.5,611.3 L491.5,611.3 Q493.8,611.3 493.8,613.5 L493.8,616.3 Z" fill="#fff" stroke="#2a2a2a" stroke-width="0.8"/>
<path d="M448.5,606.3 Q445.6,607 445.6,609.5 L445.6,611.2 L476.5,611.2 L476.5,609.5 Q476.5,607 473.6,606.3" fill="#fff" stroke="#2a2a2a" stroke-width="0.8"/>
<rect x="440.50" y="590.50" width="5.00" height="9.00" fill="#fff" stroke="#2a2a2a" stroke-width="0.7"/>
<circle cx="460.60" cy="595.60" r="15.70" fill="#fff" stroke="#2a2a2a" stroke-width="0.8"/>
<circle cx="460.60" cy="595.60" r="13.70" fill="none" stroke="#2a2a2a" stroke-width="0.8"/>
<circle cx="460.60" cy="595.60" r="8.20" fill="none" stroke="#2a2a2a" stroke-width="0.8"/>
<circle cx="460.60" cy="595.60" r="4.00" fill="none" stroke="#2a2a2a" stroke-width="0.8"/>
<circle cx="564.10" cy="547.00" r="19.80" fill="#fff" stroke="#2a2a2a" stroke-width="0.8"/>
<circle cx="564.10" cy="547.00" r="16.30" fill="none" stroke="#2a2a2a" stroke-width="0.8"/>
<circle cx="564.10" cy="547.00" r="9.20" fill="none" stroke="#2a2a2a" stroke-width="0.8"/>
<circle cx="564.10" cy="547.00" r="5.00" fill="none" stroke="#2a2a2a" stroke-width="0.8"/>
<line x1="558.10" y1="547.50" x2="570.10" y2="547.50" stroke="#555" stroke-width="0.5" stroke-dasharray="2 1.5"/>
<line x1="564.50" y1="541.00" x2="564.50" y2="553.00" stroke="#555" stroke-width="0.5" stroke-dasharray="2 1.5"/>
<line x1="555.05" y1="529.39" x2="453.42" y2="581.64" stroke="#2a2a2a" stroke-width="0.8"/>
<line x1="571.87" y1="565.21" x2="466.76" y2="610.04" stroke="#2a2a2a" stroke-width="0.8"/>
<line x1="547.51" y1="536.19" x2="462.31" y2="579.99" stroke="#2a2a2a" stroke-width="0.8"/>
<line x1="561.83" y1="566.67" x2="473.70" y2="604.26" stroke="#2a2a2a" stroke-width="0.8"/>
<line x1="434.40" y1="595.50" x2="488.00" y2="595.50" stroke="#222" stroke-width="0.9"/>
<line x1="460.50" y1="570.60" x2="460.50" y2="618.80" stroke="#222" stroke-width="0.9"/>
<line x1="544.10" y1="547.50" x2="584.10" y2="547.50" stroke="#333" stroke-width="0.6"/>
<path d="M556.9,461 L558.8,451.3 A5.4,5.4 0 0 1 569.6,451.3 L571.4,461 Z" fill="#fff" stroke="#2a2a2a" stroke-width="0.8"/>
<circle cx="564.40" cy="451.50" r="2.00" fill="none" stroke="#2a2a2a" stroke-width="0.7"/>
<line x1="556.00" y1="451.50" x2="573.00" y2="451.50" stroke="#444" stroke-width="0.5"/>
<line x1="564.50" y1="437.00" x2="564.50" y2="617.00" stroke="#555" stroke-width="0.6" stroke-dasharray="5 2.5 1 2.5"/>
<line x1="486.50" y1="429.40" x2="486.50" y2="545.00" stroke="#444" stroke-width="0.6"/>
<line x1="623.50" y1="420.00" x2="623.50" y2="451.30" stroke="#444" stroke-width="0.6"/>
<line x1="487.50" y1="430.50" x2="622.00" y2="430.50" stroke="#333" stroke-width="0.7"/>
<polygon points="487.50,430.50 494.00,429.20 494.00,431.80" fill="#111"/>
<polygon points="622.00,430.50 615.50,431.80 615.50,429.20" fill="#111"/>
<text x="0.70" y="0" font-size="11" fill="#6a6a6a" text-anchor="middle" letter-spacing="1.40" class="ts" transform="translate(556.30 428.60) scale(0.86 1)">E1</text>
<line x1="564.50" y1="444.50" x2="622.00" y2="444.50" stroke="#333" stroke-width="0.7"/>
<polygon points="564.50,444.00 571.00,442.70 571.00,445.30" fill="#111"/>
<polygon points="622.00,444.00 615.50,445.30 615.50,442.70" fill="#111"/>
<text x="0.70" y="0" font-size="11" fill="#6a6a6a" text-anchor="middle" letter-spacing="1.40" class="ts" transform="translate(593.00 442.00) scale(0.86 1)">E2</text>
<line x1="601.30" y1="488.50" x2="641.00" y2="488.50" stroke="#444" stroke-width="0.6"/>
<line x1="638.50" y1="492.60" x2="638.50" y2="545.00" stroke="#333" stroke-width="0.7"/>
<polygon points="638.00,492.60 639.30,499.10 636.70,499.10" fill="#111"/>
<polygon points="638.00,545.00 636.70,538.50 639.30,538.50" fill="#111"/>
<text x="0.29" y="0" font-size="11" fill="#6a6a6a" text-anchor="middle" letter-spacing="0.58" class="ts" transform="translate(636.50 515.50) rotate(-90) scale(0.86 1)">A1</text>
<line x1="653.50" y1="454.00" x2="653.50" y2="545.00" stroke="#333" stroke-width="0.7"/>
<polygon points="653.30,454.00 654.60,460.50 652.00,460.50" fill="#111"/>
<polygon points="653.30,545.00 652.00,538.50 654.60,538.50" fill="#111"/>
<text x="0.29" y="0" font-size="11" fill="#6a6a6a" text-anchor="middle" letter-spacing="0.58" class="ts" transform="translate(652.00 505.60) rotate(-90) scale(0.86 1)">E5</text>
<line x1="667.50" y1="454.00" x2="667.50" y2="614.00" stroke="#333" stroke-width="0.7"/>
<polygon points="667.50,454.00 668.80,460.50 666.20,460.50" fill="#111"/>
<polygon points="667.50,614.00 666.20,607.50 668.80,607.50" fill="#111"/>
<text x="0.29" y="0" font-size="11" fill="#6a6a6a" text-anchor="middle" letter-spacing="0.58" class="ts" transform="translate(666.00 534.40) rotate(-90) scale(0.86 1)">E8</text>
<line x1="626.00" y1="616.50" x2="671.00" y2="616.50" stroke="#444" stroke-width="0.6"/>
<line x1="427.50" y1="548.80" x2="427.50" y2="627.00" stroke="#333" stroke-width="0.7"/>
<polygon points="427.25,548.80 428.55,555.30 425.95,555.30" fill="#111"/>
<polygon points="427.25,627.00 425.95,620.50 428.55,620.50" fill="#111"/>
<text x="0.29" y="0" font-size="11.5" fill="#6a6a6a" text-anchor="middle" letter-spacing="0.58" class="ts" transform="translate(425.40 586.00) rotate(-90) scale(0.86 1)">H3</text>
<line x1="423.80" y1="628.50" x2="430.00" y2="628.50" stroke="#999" stroke-width="0.5"/>
<line x1="527.50" y1="621.00" x2="527.50" y2="643.50" stroke="#444" stroke-width="0.6"/>
<line x1="432.50" y1="629.20" x2="432.50" y2="662.50" stroke="#444" stroke-width="0.6"/>
<line x1="620.50" y1="629.20" x2="620.50" y2="662.00" stroke="#444" stroke-width="0.6"/>
<line x1="530.00" y1="642.50" x2="617.50" y2="642.50" stroke="#333" stroke-width="0.7"/>
<polygon points="530.00,642.50 536.50,641.20 536.50,643.80" fill="#111"/>
<polygon points="617.50,642.50 611.00,643.80 611.00,641.20" fill="#111"/>
<text x="0.87" y="0" font-size="11" fill="#6a6a6a" text-anchor="middle" letter-spacing="1.74" class="ts" transform="translate(571.00 638.80) scale(0.86 1)">B7</text>
<line x1="435.00" y1="659.50" x2="617.50" y2="659.50" stroke="#333" stroke-width="0.7"/>
<polygon points="435.00,659.50 441.50,658.20 441.50,660.80" fill="#111"/>
<polygon points="617.50,659.50 611.00,660.80 611.00,658.20" fill="#111"/>
<text x="0.87" y="0" font-size="11" fill="#6a6a6a" text-anchor="middle" letter-spacing="1.74" class="ts" transform="translate(522.50 657.00) scale(0.86 1)">B8</text>
<text x="431" y="439.8" font-size="13.5" fill="#1a1a1a" class="tn" letter-spacing="0.4">右180°</text>
<rect x="216.50" y="725.50" width="327.00" height="9.00" fill="none" stroke="#2a2a2a" stroke-width="0.8"/>
<rect x="216.50" y="734.50" width="8.00" height="121.00" fill="none" stroke="#2a2a2a" stroke-width="0.8"/>
<rect x="535.50" y="734.50" width="8.00" height="121.00" fill="none" stroke="#2a2a2a" stroke-width="0.8"/>
<rect x="224.50" y="777.50" width="311.00" height="9.00" fill="none" stroke="#2a2a2a" stroke-width="0.8"/>
<rect x="216.50" y="855.50" width="327.00" height="9.00" fill="none" stroke="#2a2a2a" stroke-width="0.8"/>
<path d="M335.50,734.40 L335.50,777.60" fill="none" stroke="#2a2a2a" stroke-width="0.8" stroke-linejoin="round"/>
<path d="M343.50,734.40 L343.50,777.60" fill="none" stroke="#2a2a2a" stroke-width="0.8" stroke-linejoin="round"/>
<line x1="246.50" y1="786.40" x2="246.50" y2="855.40" stroke="#2a2a2a" stroke-width="0.8"/>
<line x1="255.50" y1="786.40" x2="255.50" y2="855.40" stroke="#2a2a2a" stroke-width="0.8"/>
<line x1="304.50" y1="786.40" x2="304.50" y2="855.40" stroke="#2a2a2a" stroke-width="0.8"/>
<line x1="313.50" y1="786.40" x2="313.50" y2="855.40" stroke="#2a2a2a" stroke-width="0.8"/>
<line x1="398.50" y1="786.40" x2="398.50" y2="855.40" stroke="#2a2a2a" stroke-width="0.8"/>
<line x1="408.50" y1="786.40" x2="408.50" y2="855.40" stroke="#2a2a2a" stroke-width="0.8"/>
<line x1="473.50" y1="786.40" x2="473.50" y2="855.40" stroke="#2a2a2a" stroke-width="0.8"/>
<line x1="483.50" y1="786.40" x2="483.50" y2="855.40" stroke="#2a2a2a" stroke-width="0.8"/>
<line x1="440.50" y1="714.00" x2="440.50" y2="870.00" stroke="#444" stroke-width="0.7" stroke-dasharray="2.5 2.5"/>
<line x1="280.50" y1="800.00" x2="280.50" y2="867.00" stroke="#888" stroke-width="0.5" stroke-dasharray="2.5 2.5"/>
<line x1="543.30" y1="725.50" x2="586.60" y2="725.50" stroke="#444" stroke-width="0.6"/>
<line x1="543.30" y1="864.50" x2="588.00" y2="864.50" stroke="#444" stroke-width="0.6"/>
<line x1="569.50" y1="726.40" x2="569.50" y2="863.90" stroke="#333" stroke-width="0.7"/>
<polygon points="569.00,726.40 571.40,735.40 566.60,735.40" fill="#111"/>
<polygon points="569.00,863.90 566.60,854.90 571.40,854.90" fill="#111"/>
<text x="0.00" y="0" font-size="7" fill="#555" text-anchor="middle" letter-spacing="0.00" class="ts" transform="translate(563.50 794.50) rotate(-90) scale(0.86 1)">W</text>
<line x1="216.50" y1="864.50" x2="216.50" y2="886.00" stroke="#444" stroke-width="0.6"/>
<line x1="544.50" y1="864.50" x2="544.50" y2="888.00" stroke="#444" stroke-width="0.6"/>
<line x1="217.00" y1="884.50" x2="542.50" y2="884.50" stroke="#333" stroke-width="0.7"/>
<polygon points="217.00,884.60 226.00,882.20 226.00,887.00" fill="#111"/>
<polygon points="542.50,884.60 533.50,887.00 533.50,882.20" fill="#111"/>
<text x="0.00" y="0" font-size="11" fill="#555" text-anchor="middle" letter-spacing="0.00" class="tn" transform="translate(376.00 882.80) scale(0.68 1)">L</text>
</svg>
</body></html>
